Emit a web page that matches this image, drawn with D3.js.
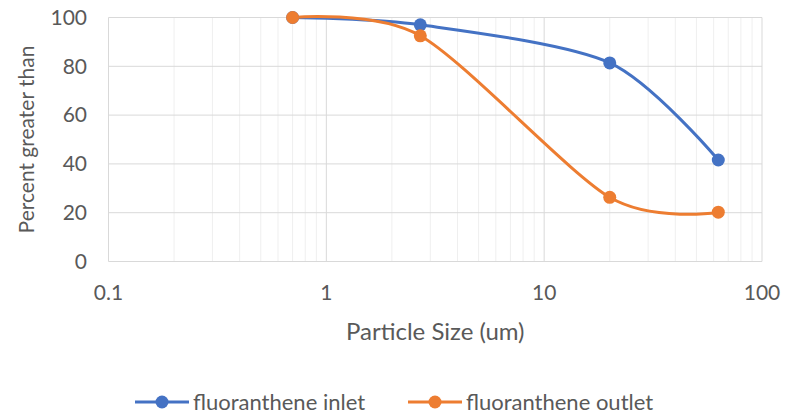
<!DOCTYPE html>
<html>
<head>
<meta charset="utf-8">
<script src="https://cdn.jsdelivr.net/npm/d3@7"></script>
<style>
  body { margin: 0; background: #fff; }
  svg text { font-family: Lato, "Open Sans", sans-serif; fill: #595959; }
</style>
</head>
<body>
<svg id="chart" width="795" height="416"></svg>
<script>
// data
const sizes = [0.7, 2.7, 20, 63];
const inletValues = [100, 97, 81.4, 41.6];
const outletValues = [100, 92.5, 26.3, 20.2];
const seriesNames = ["fluoranthene inlet", "fluoranthene outlet"];
const seriesColors = ["#4472C4", "#ED7D31"];
const xTicks = [0.1, 1, 10, 100];
const yTicks = [0, 20, 40, 60, 80, 100];

const svg = d3.select("#chart");
const margin = { left: 108.5, right: 33, top: 17.5, bottom: 154.5 };
const width = 795, height = 416;

const x = d3.scaleLog().domain([0.1, 100]).range([margin.left, width - margin.right]);
const y = d3.scaleLinear().domain([0, 100]).range([height - margin.bottom, margin.top]);

// minor gridlines (2..9 inside each decade)
const minor = [];
for (let d = 0.1; d < 100; d *= 10) {
    for (let k = 2; k <= 9; k++) minor.push(d * k);
}
svg.append("g")
    .selectAll("line")
    .data(minor)
    .enter().append("line")
    .attr("x1", d => x(d)).attr("x2", d => x(d))
    .attr("y1", y(0)).attr("y2", y(100))
    .attr("stroke", "#efefef").attr("stroke-width", 1);

// major gridlines
svg.append("g")
    .selectAll("line")
    .data(xTicks)
    .enter().append("line")
    .attr("x1", d => x(d)).attr("x2", d => x(d))
    .attr("y1", y(0)).attr("y2", y(100))
    .attr("stroke", "#d9d9d9").attr("stroke-width", 1);

svg.append("g")
    .selectAll("line")
    .data(yTicks)
    .enter().append("line")
    .attr("x1", x(0.1)).attr("x2", x(100))
    .attr("y1", d => y(d)).attr("y2", d => y(d))
    .attr("stroke", "#d9d9d9").attr("stroke-width", 1);

// tick labels
svg.append("g")
    .selectAll("text")
    .data(yTicks)
    .enter().append("text")
    .attr("x", 87)
    .attr("y", d => y(d))
    .attr("dy", "0.35em")
    .attr("text-anchor", "end")
    .attr("font-size", 21)
    .text(d => d);

svg.append("g")
    .selectAll("text")
    .data(xTicks)
    .enter().append("text")
    .attr("x", d => x(d))
    .attr("y", 293)
    .attr("dy", "0.35em")
    .attr("text-anchor", "middle")
    .attr("font-size", 21)
    .text(d => d);

// axis titles
svg.append("text")
    .attr("x", (x(0.1) + x(100)) / 2)
    .attr("y", 331.5)
    .attr("dy", "0.35em")
    .attr("text-anchor", "middle")
    .attr("font-size", 24)
    .text("Particle Size (um)");

svg.append("text")
    .attr("transform", `translate(27,${(y(0) + y(100)) / 2}) rotate(-90)`)
    .attr("dy", "0.35em")
    .attr("text-anchor", "middle")
    .attr("font-size", 21)
    .text("Percent greater than");

// series
const series = [inletValues, outletValues].map((vals, i) => ({
    name: seriesNames[i],
    color: seriesColors[i],
    points: sizes.map((s, j) => ({ s, v: vals[j] }))
}));

// smoothed line like Excel's, a bit tighter than plain catmull-rom
const line = d3.line()
    .x(d => x(d.s))
    .y(d => y(d.v))
    .curve(d3.curveCardinal.tension(0.15));

series.forEach(sr => {
    svg.append("path")
        .datum(sr.points)
        .attr("d", line)
        .attr("fill", "none")
        .attr("stroke", sr.color)
        .attr("stroke-width", 3)
        .attr("stroke-linecap", "round");
});
series.forEach(sr => {
    svg.append("g")
        .selectAll("circle")
        .data(sr.points)
        .enter().append("circle")
        .attr("cx", d => x(d.s))
        .attr("cy", d => y(d.v))
        .attr("r", 6.5)
        .attr("fill", sr.color);
});

// legend
const legendX = [135, 408];
const legend = svg.append("g")
    .selectAll("g")
    .data(series)
    .enter().append("g")
    .attr("transform", (d, i) => `translate(${legendX[i]},402)`);
legend.append("line")
    .attr("x1", 0).attr("x2", 54)
    .attr("stroke", d => d.color).attr("stroke-width", 3);
legend.append("circle")
    .attr("cx", 27).attr("r", 6.5)
    .attr("fill", d => d.color);
legend.append("text")
    .attr("x", 58)
    .attr("dy", "0.35em")
    .attr("font-size", 22)
    .text(d => d.name);
</script>
</body>
</html>
